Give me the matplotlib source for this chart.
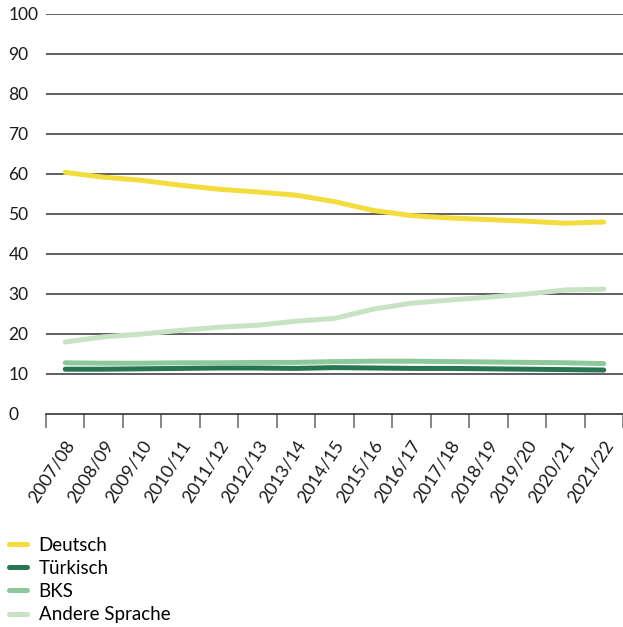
import matplotlib.pyplot as plt
from matplotlib.ticker import FixedLocator
import matplotlib.transforms as mtransforms

plt.rcParams['font.family'] = ['Lato', 'DejaVu Sans']

years = ["2007/08", "2008/09", "2009/10", "2010/11", "2011/12", "2012/13", "2013/14",
         "2014/15", "2015/16", "2016/17", "2017/18", "2018/19", "2019/20", "2020/21", "2021/22"]
deutsch = [60.4, 59.2, 58.4, 57.2, 56.2, 55.5, 54.7, 53.1, 50.9, 49.6, 49.0, 48.6, 48.2, 47.7, 48.0]
tuerkisch = [11.2, 11.2, 11.3, 11.4, 11.5, 11.5, 11.4, 11.6, 11.5, 11.4, 11.4, 11.3, 11.2, 11.1, 11.0]
bks = [12.8, 12.7, 12.7, 12.8, 12.8, 12.9, 12.9, 13.1, 13.2, 13.2, 13.1, 13.0, 12.9, 12.8, 12.6]
andere = [18.0, 19.3, 20.0, 20.9, 21.7, 22.2, 23.2, 23.9, 26.2, 27.7, 28.5, 29.2, 30.0, 31.0, 31.2]

series = [("Deutsch", deutsch, "#f3dc3e"),
          ("Türkisch", tuerkisch, "#287553"),
          ("BKS", bks, "#8dc89b"),
          ("Andere Sprache", andere, "#c8e3c3")]

fig = plt.figure(figsize=(6.23, 6.27), dpi=100)
ax = fig.add_axes([46/623, 1 - 414/627, 1 - 46/623, 400/627])

x = list(range(len(years)))
for name, vals, col in series:
    ax.plot(x, vals, color=col, lw=3.6, solid_capstyle='round', label=name, zorder=3)

ax.set_xlim(-0.5, len(years) - 0.5)
ax.set_ylim(0, 100)
ax.set_yticks(range(0, 101, 10))
for y in range(10, 101, 10):
    ax.axhline(y, color="#333333", lw=1.1, zorder=1)

for s in ["top", "right", "left"]:
    ax.spines[s].set_visible(False)
ax.spines["bottom"].set_color("#222222")
ax.spines["bottom"].set_linewidth(1.1)

ax.tick_params(axis="y", length=0, pad=27, labelsize=12.5, labelcolor="#1a1a1a")
for lab in ax.get_yticklabels():
    lab.set_horizontalalignment("left")

ax.xaxis.set_major_locator(FixedLocator([i - 0.5 for i in range(len(years) + 1)]))
ax.xaxis.set_minor_locator(FixedLocator(x))
ax.set_xticklabels([], minor=False)
ax.set_xticklabels(years, minor=True, rotation=57, ha="right", va="center",
                   rotation_mode="anchor", fontsize=13, color="#1a1a1a")
ax.tick_params(axis="x", which="major", length=10, width=1.1, color="#666666", direction="out")
ax.tick_params(axis="x", which="minor", length=0, pad=20)
offset = mtransforms.ScaledTranslation(6/100, 0, fig.dpi_scale_trans)
for lab in ax.get_xticklabels(minor=True):
    lab.set_transform(lab.get_transform() + offset)

handles, labels = ax.get_legend_handles_labels()
fig.legend(handles, labels, loc="upper left", bbox_to_anchor=(3/623, 1 - 531/627),
           frameon=False, fontsize=13.5, handlelength=1.0, handletextpad=0.6,
           labelspacing=0.33, borderaxespad=0, borderpad=0.3)

fig.savefig("out.png", dpi=100)
